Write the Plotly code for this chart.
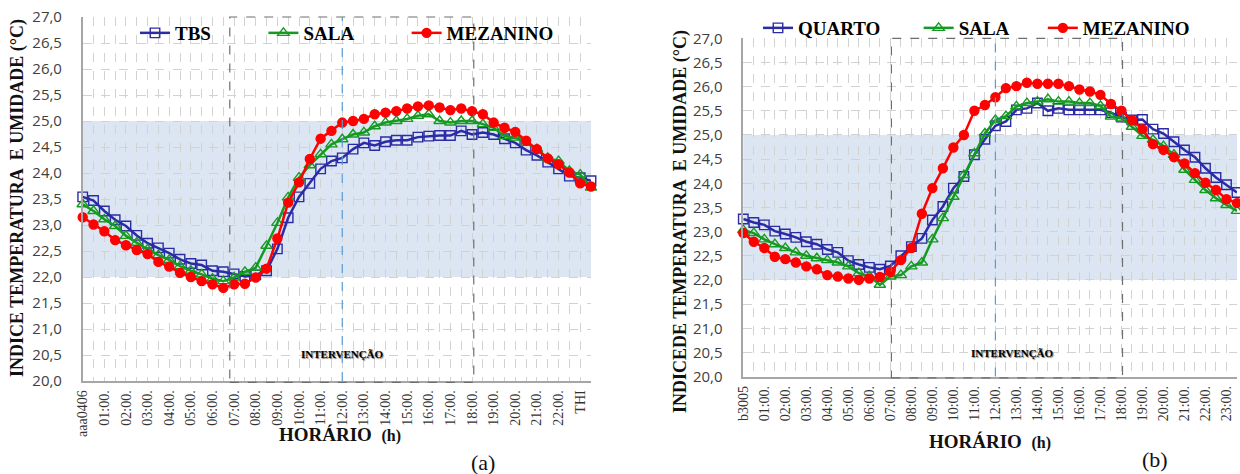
import plotly.graph_objects as go

# ---------------- data ----------------
hours = [0, 0.5, 1, 1.5, 2, 2.5, 3, 3.5, 4, 4.5, 5, 5.5, 6, 6.5, 7, 7.5,
         8, 8.5, 9, 9.5, 10, 10.5, 11, 11.5, 12, 12.5, 13, 13.5, 14, 14.5, 15, 15.5,
         16, 16.5, 17, 17.5, 18, 18.5, 19, 19.5, 20, 20.5, 21, 21.5, 22, 22.5, 23, 23.5]

ticks_a = ["aaa0406", "", "01:00.", "", "02:00.", "", "03:00.", "", "04:00.", "", "05:00.", "",
           "06:00.", "", "07:00.", "", "08:00.", "", "09:00.", "", "10:00.", "", "11:00.", "",
           "12:00.", "", "13:00.", "", "14:00.", "", "15:00.", "", "16:00.", "", "17:00.", "",
           "18:00.", "", "19:00.", "", "20:00.", "", "21:00.", "", "22:00.", "", "THI", ""]
ticks_b = ["b3005", "", "01:00.", "", "02:00.", "", "03:00.", "", "04:00.", "", "05:00.", "",
           "06:00.", "", "07:00.", "", "08:00.", "", "09:00.", "", "10:00.", "", "11:00.", "",
           "12:00.", "", "13:00.", "", "14:00.", "", "15:00.", "", "16:00.", "", "17:00.", "",
           "18:00.", "", "19:00.", "", "20:00.", "", "21:00.", "", "22:00.", "", "23:00.", ""]

y_ticks = [20.0, 20.5, 21.0, 21.5, 22.0, 22.5, 23.0, 23.5, 24.0, 24.5, 25.0, 25.5, 26.0, 26.5, 27.0]
y_labels = ["20,0", "20,5", "21,0", "21,5", "22,0", "22,5", "23,0", "23,5", "24,0", "24,5",
            "25,0", "25,5", "26,0", "26,5", "27,0"]

# chart (a)
tbs_a = [23.54, 23.47, 23.27, 23.10, 22.98, 22.80, 22.65, 22.56, 22.46, 22.34, 22.26, 22.23,
         22.12, 22.10, 22.06, 22.01, 22.04, 22.12, 22.54, 23.14, 23.54, 23.80, 24.08, 24.23,
         24.29, 24.46, 24.58, 24.53, 24.60, 24.63, 24.63, 24.69, 24.71, 24.72, 24.72, 24.81,
         24.74, 24.78, 24.74, 24.66, 24.58, 24.44, 24.34, 24.21, 24.08, 23.94, 23.91, 23.85]
sala_a = [23.40, 23.27, 23.11, 22.98, 22.79, 22.66, 22.53, 22.42, 22.33, 22.21, 22.12, 22.05,
          21.97, 21.92, 21.99, 22.10, 22.18, 22.60, 23.04, 23.53, 23.91, 24.15, 24.36, 24.55,
          24.65, 24.74, 24.78, 24.90, 24.97, 25.00, 25.04, 25.10, 25.13, 25.00, 24.97, 25.00,
          25.00, 24.94, 24.87, 24.71, 24.68, 24.58, 24.46, 24.29, 24.23, 24.04, 23.97, 23.72]
mez_a = [23.15, 23.01, 22.88, 22.71, 22.61, 22.52, 22.44, 22.29, 22.20, 22.08, 22.00, 21.92,
         21.86, 21.79, 21.86, 21.87, 21.99, 22.16, 22.74, 23.43, 23.82, 24.27, 24.66, 24.81,
         24.97, 25.00, 25.04, 25.13, 25.16, 25.19, 25.24, 25.28, 25.30, 25.26, 25.21, 25.24,
         25.19, 25.13, 24.97, 24.87, 24.79, 24.62, 24.46, 24.28, 24.17, 24.01, 23.80, 23.74]

# chart (b)
quarto_b = [23.26, 23.19, 23.14, 23.01, 22.95, 22.88, 22.79, 22.74, 22.63, 22.57, 22.40, 22.32,
            22.26, 22.22, 22.29, 22.50, 22.69, 22.86, 23.24, 23.52, 23.90, 24.14, 24.59, 24.91,
            25.19, 25.28, 25.52, 25.55, 25.66, 25.50, 25.55, 25.52, 25.52, 25.52, 25.52, 25.46,
            25.37, 25.31, 25.32, 25.12, 25.03, 24.86, 24.69, 24.54, 24.31, 24.12, 23.97, 23.81]
sala_b = [23.03, 22.97, 22.84, 22.74, 22.66, 22.57, 22.50, 22.45, 22.41, 22.36, 22.28, 22.14,
          22.08, 21.90, 22.07, 22.10, 22.28, 22.36, 22.84, 23.28, 23.72, 24.17, 24.62, 25.03,
          25.31, 25.39, 25.59, 25.66, 25.69, 25.74, 25.69, 25.69, 25.66, 25.66, 25.60, 25.38,
          25.34, 25.17, 24.98, 24.90, 24.77, 24.59, 24.28, 24.07, 23.86, 23.69, 23.55, 23.43]
mez_b = [22.97, 22.79, 22.66, 22.48, 22.43, 22.36, 22.28, 22.22, 22.10, 22.07, 22.03, 22.00,
         22.03, 22.06, 22.17, 22.41, 22.66, 23.37, 23.90, 24.31, 24.74, 25.00, 25.50, 25.62,
         25.78, 25.97, 26.01, 26.08, 26.06, 26.06, 26.06, 26.01, 25.94, 25.90, 25.83, 25.64,
         25.50, 25.31, 25.12, 24.81, 24.69, 24.54, 24.41, 24.21, 24.01, 23.86, 23.67, 23.59]

# ---------------- styles ----------------
BLUE = "#2b2ba6"
GREEN = "#159a22"
RED = "#ff0000"
GRID = "#d2d2d2"
AXIS = "#a6a6a6"
W, H = 1240, 474
SERIF = "Liberation Serif"
NB = "\u00a0"

fig = go.Figure()


def add(x, y, name, color, symbol, size, xa, ya, leg):
    fig.add_trace(go.Scatter(
        x=x, y=y, name=name, mode="lines+markers", xaxis=xa, yaxis=ya, legend=leg,
        cliponaxis=False,
        line=dict(color=color, width=2.5),
        marker=dict(symbol=symbol, size=size, color=color,
                    line=dict(color=color, width=1.4)),
    ))


add(hours, tbs_a, "TBS" + NB * 10, BLUE, "square-open", 9.5, "x", "y", "legend")
add(hours, sala_a, "SALA" + NB * 10, GREEN, "triangle-up-open", 10, "x", "y", "legend")
add(hours, mez_a, "MEZANINO", RED, "circle", 9, "x", "y", "legend")
add(hours, quarto_b, "QUARTO" + NB * 7, BLUE, "square-open", 9.5, "x2", "y2", "legend2")
add(hours, sala_b, "SALA" + NB * 6, GREEN, "triangle-up-open", 10, "x2", "y2", "legend2")
add(hours, mez_b, "MEZANINO", RED, "circle", 9, "x2", "y2", "legend2")


def px_x(p):
    return p / W


def px_y(p):
    return 1 - p / H


xcommon = dict(range=[0, 23.5], tickmode="array", tickvals=hours, tickangle=-90,
               showgrid=True, gridcolor=GRID, griddash="dash", gridwidth=1,
               showline=True, linecolor=AXIS, linewidth=1.5, zeroline=False, ticks="",
               automargin=False,
               tickfont=dict(family=SERIF, size=14, color="#333333"), ticklabelstandoff=2)
ycommon = dict(range=[20, 27], tickmode="array", tickvals=y_ticks, ticktext=y_labels,
               showgrid=True, gridcolor=GRID, griddash="dash", gridwidth=1,
               showline=True, linecolor=AXIS, linewidth=1.5, zeroline=False, ticks="",
               automargin=False,
               tickfont=dict(family="Open Sans", size=15, color="#404040"), ticklabelstandoff=16)

legfont = dict(family=SERIF, size=19, color="black", weight="bold")

fig.update_layout(
    width=W, height=H, autosize=False,
    margin=dict(l=0, r=0, t=0, b=0, autoexpand=False),
    paper_bgcolor="white", plot_bgcolor="white",
    xaxis=dict(xcommon, domain=[px_x(82.7), px_x(591)], anchor="y", ticktext=ticks_a),
    yaxis=dict(ycommon, domain=[px_y(381), px_y(17)], anchor="x"),
    xaxis2=dict(xcommon, domain=[px_x(743.3), px_x(1237)], anchor="y2", ticktext=ticks_b),
    yaxis2=dict(ycommon, domain=[px_y(376.6), px_y(38.3)], anchor="x2"),
    legend=dict(orientation="h", x=px_x(135), xanchor="left", y=px_y(33), yanchor="middle",
                font=legfont, bgcolor="rgba(0,0,0,0)", itemclick=False),
    legend2=dict(orientation="h", x=px_x(758), xanchor="left", y=px_y(28), yanchor="middle",
                 font=legfont, bgcolor="rgba(0,0,0,0)", itemclick=False),
    showlegend=True,
)

shapes = []
for xr, yr, bx0, bx1 in (("x", "y", 6.8, 18.08), ("x2", "y2", 7.05, 18.05)):
    shapes.append(dict(type="rect", xref=xr + " domain", x0=0, x1=1, yref=yr, y0=22, y1=25,
                       fillcolor="#dce6f2", line=dict(width=0), layer="below"))
    shapes.append(dict(type="rect", xref=xr, x0=bx0, x1=bx1, yref=yr + " domain", y0=-0.004, y1=1,
                       line=dict(color="#6e6e6e", width=1.2, dash="dash"), layer="above"))
    shapes.append(dict(type="line", xref=xr, x0=12, x1=12, yref=yr + " domain", y0=0, y1=1,
                       line=dict(color="#5b9bd5", width=1.2, dash="dash"), layer="above"))
fig.update_layout(shapes=shapes)

ann = []
for xr, yr, xv, yv in (("x", "y", 12.03, 20.51), ("x2", "y2", 12.8, 20.49)):
    ann.append(dict(xref=xr, yref=yr, x=xv, y=yv, text="<b>INTERVENÇÃO</b>", showarrow=False,
                    font=dict(family=SERIF, size=11, color="#000000", shadow="1px 1px 1px #777"),
                    xanchor="center", yanchor="middle"))
# axis titles
ann.append(dict(xref="paper", yref="paper", x=px_x(17), y=px_y(198), textangle=-90,
                text="<b>INDICE TEMPERATURA  E UMIDADE (°C)</b>", showarrow=False,
                font=dict(family=SERIF, size=18, color="#111111"), xanchor="center", yanchor="middle"))
ann.append(dict(xref="paper", yref="paper", x=px_x(680), y=px_y(222), textangle=-90,
                text="<b>INDICEDE TEMPERATURA  E UMIDADE (°C)</b>", showarrow=False,
                font=dict(family=SERIF, size=18, color="#111111"), xanchor="center", yanchor="middle"))
ann.append(dict(xref="paper", yref="paper", x=px_x(340), y=px_y(434),
                text="<b>HORÁRIO</b>  <b><span style='font-size:16px'>(h)</span></b>", showarrow=False,
                font=dict(family=SERIF, size=19, color="#111111"), xanchor="center", yanchor="middle"))
ann.append(dict(xref="paper", yref="paper", x=px_x(990), y=px_y(441),
                text="<b>HORÁRIO</b>  <b><span style='font-size:16px'>(h)</span></b>", showarrow=False,
                font=dict(family=SERIF, size=19, color="#111111"), xanchor="center", yanchor="middle"))
ann.append(dict(xref="paper", yref="paper", x=px_x(483), y=px_y(462), text="(a)", showarrow=False,
                font=dict(family=SERIF, size=22, color="#111111"), xanchor="center", yanchor="middle"))
ann.append(dict(xref="paper", yref="paper", x=px_x(1155), y=px_y(459), text="(b)", showarrow=False,
                font=dict(family=SERIF, size=22, color="#111111"), xanchor="center", yanchor="middle"))
fig.update_layout(annotations=ann)

fig.write_html("out.html")
